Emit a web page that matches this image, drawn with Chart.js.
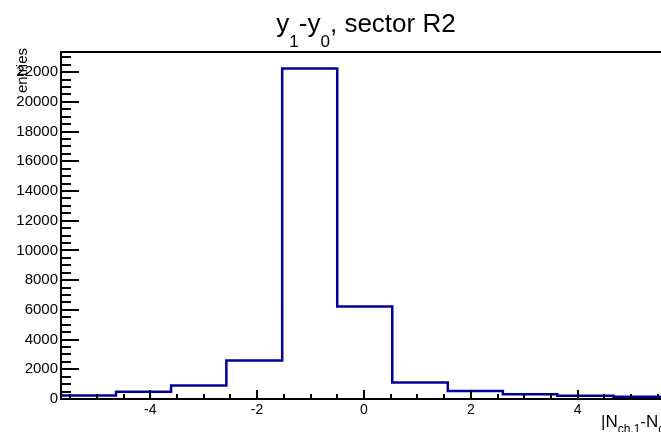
<!DOCTYPE html>
<html>
<head>
<meta charset="utf-8">
<script src="https://cdn.jsdelivr.net/npm/chart.js@4.4.0/dist/chart.umd.min.js"></script>
<style>
  html, body { margin: 0; padding: 0; background: #fff; overflow: hidden; }
  #wrap { width: 661px; height: 432px; }
</style>
</head>
<body>
<div id="wrap"><canvas id="c" width="661" height="432"></canvas></div>
<script>
// ---- data ----
const binEdges = [-5.67, -4.64, -3.61, -2.575, -1.53, -0.50, 0.53, 1.57, 2.60, 3.62, 4.67, 5.70];
const binCounts = [240, 485, 910, 2600, 22250, 6230, 1110, 540, 325, 215, 150];
const xTickValues = [-4, -2, 0, 2, 4];
const yTickValues = [0, 2000, 4000, 6000, 8000, 10000, 12000, 14000, 16000, 18000, 20000, 22000];
const xRange = [-5.67, 5.56];
const yRange = [0, 23360];
const titleParts = [["y", false], ["1", true], ["-y", false], ["0", true], [", sector R2", false]];
const xTitleParts = [["|N", false], ["ch,1", true], ["-N", false], ["ch,2", true], ["|", false]];
const yTitle = "entries";

const FONT = '"Liberation Sans", Arial, Helvetica, sans-serif';

// histogram outline: one point per left bin edge, plus closing right edge
const points = binEdges.map((e, i) => ({ x: e, y: binCounts[Math.min(i, binCounts.length - 1)] }));

function drawParts(ctx, parts, x, y, mainSize, subSize, subDrop) {
  let cx = x;
  for (const [t, sub] of parts) {
    ctx.font = (sub ? subSize : mainSize) + 'px ' + FONT;
    ctx.fillText(t, cx, sub ? y + subDrop : y);
    cx += ctx.measureText(t).width;
  }
  return cx - x;
}
function partsWidth(ctx, parts, mainSize, subSize) {
  let w = 0;
  for (const [t, sub] of parts) {
    ctx.font = (sub ? subSize : mainSize) + 'px ' + FONT;
    w += ctx.measureText(t).width;
  }
  return w;
}

const rootStyle = {
  id: 'rootStyle',
  afterDraw(chart) {
    const { ctx, chartArea, scales } = chart;
    const xs = scales.x, ys = scales.y;
    ctx.save();
    ctx.strokeStyle = '#000';
    ctx.lineWidth = 2;
    ctx.beginPath();
    // top frame line
    ctx.moveTo(chartArea.left - 1, chartArea.top);
    ctx.lineTo(chartArea.right + 2, chartArea.top);
    // y ticks (inside)
    for (let v = 0; v <= yRange[1]; v += 500) {
      const py = Math.round(ys.getPixelForValue(v));
      const len = (v % 2000 === 0) ? 18 : 10;
      ctx.moveTo(chartArea.left, py);
      ctx.lineTo(chartArea.left + len, py);
    }
    // x ticks (inside)
    for (let v = -5.5; v <= 5.5; v += 0.5) {
      const px = Math.round(xs.getPixelForValue(v));
      const len = (Math.abs(v % 2) < 1e-9) ? 9 : 5;
      ctx.moveTo(px, chartArea.bottom);
      ctx.lineTo(px, chartArea.bottom - len);
    }
    ctx.stroke();

    ctx.fillStyle = '#000';
    ctx.textBaseline = 'alphabetic';
    ctx.textAlign = 'left';
    // title
    const tw = partsWidth(ctx, titleParts, 26, 17);
    drawParts(ctx, titleParts, 366 - tw / 2, 32, 26, 17, 15);
    // x axis title
    drawParts(ctx, xTitleParts, 601, 427, 17, 12, 6);
    // y axis title (rotated)
    ctx.translate(27, 48);
    ctx.rotate(-Math.PI / 2);
    ctx.font = '15px ' + FONT;
    ctx.textAlign = 'right';
    ctx.fillText(yTitle, 0, 0);
    ctx.restore();
  }
};

new Chart(document.getElementById('c'), {
  type: 'line',
  data: {
    datasets: [{
      data: points,
      stepped: 'before',
      borderColor: '#000099',
      borderWidth: 2.5,
      pointRadius: 0,
      fill: false,
      tension: 0
    }]
  },
  options: {
    responsive: false,
    devicePixelRatio: 1,
    animation: false,
    events: [],
    layout: { padding: { top: 52, left: 0, right: 0, bottom: 0 } },
    plugins: { legend: { display: false }, title: { display: false }, tooltip: { enabled: false } },
    scales: {
      x: {
        type: 'linear',
        min: xRange[0],
        max: xRange[1],
        afterBuildTicks(s) { s.ticks = xTickValues.map(v => ({ value: v })); },
        afterFit(s) { s.height = 33; },
        grid: { display: false, drawTicks: false },
        border: { display: true, width: 2, color: '#000' },
        ticks: {
          color: '#000',
          font: { family: FONT, size: 14 },
          padding: 3,
          maxRotation: 0,
          autoSkip: false,
          callback: v => String(v)
        }
      },
      y: {
        type: 'linear',
        min: yRange[0],
        max: yRange[1],
        afterBuildTicks(s) { s.ticks = yTickValues.map(v => ({ value: v })); },
        afterFit(s) { s.width = 61; },
        grid: { display: false, drawTicks: false },
        border: { display: true, width: 2, color: '#000' },
        ticks: {
          color: '#000',
          font: { family: FONT, size: 15 },
          padding: 3,
          autoSkip: false,
          callback: v => String(v)
        }
      }
    }
  },
  plugins: [rootStyle]
});
</script>
</body>
</html>
